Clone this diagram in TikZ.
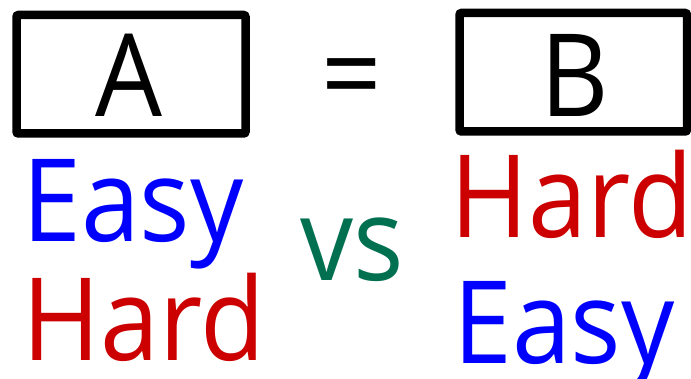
\documentclass[tikz,border=0pt]{standalone}
\usepackage{fontspec}
\setmainfont{Open Sans}[FakeStretch=0.92]
\definecolor{easyblue}{RGB}{0,0,255}
\definecolor{hardred}{RGB}{204,0,0}
\definecolor{vsgreen}{RGB}{0,112,80}
\tikzset{
  bigtext/.style={inner sep=0pt, font=\fontsize{115}{115}\selectfont},
  framebox/.style={draw=black, line width=8.5pt, rounded corners=2pt},
}
\begin{document}
\begin{tikzpicture}[x=1pt,y=-1pt]
\useasboundingbox (0,0) rectangle (691,379);
\fill[white] (0,0) rectangle (691,379);
\draw[framebox] (16.5,15) rectangle (245.5,133.5);
\draw[framebox] (459.5,13) rectangle (687,131.5);
\node[bigtext, anchor=base] (A) at (129,117) {A};
\node[bigtext, anchor=base] (B) at (575,117) {B};
\node[bigtext, anchor=center] (eq) at (352,87) {=};
\node[bigtext, anchor=base west, text=easyblue] (e1) at (22,242) {Easy};
\node[bigtext, anchor=base west, text=hardred] (h1) at (22,360) {Hard};
\node[bigtext, anchor=base west, text=hardred] (h2) at (450,238) {Hard};
\node[bigtext, anchor=base west, text=easyblue] (e2) at (453,363) {Easy};
\node[bigtext, anchor=base west, text=vsgreen] (vs) at (300,281) {vs};
\end{tikzpicture}
\end{document}
